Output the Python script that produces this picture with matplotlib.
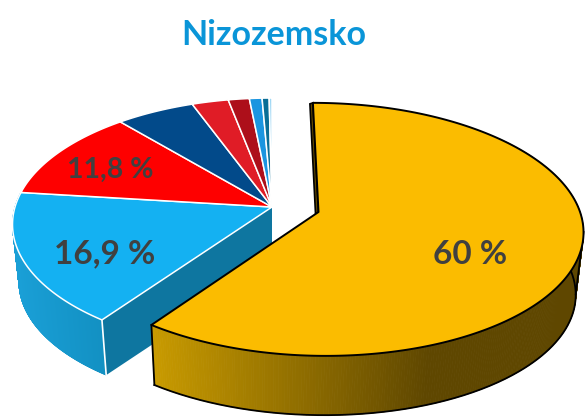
import numpy as np
from matplotlib import pyplot as plt
from matplotlib.collections import PolyCollection
from matplotlib.colors import to_rgb
from matplotlib.patches import Polygon

title = 'Nizozemsko'
values = [60, 16.9, 11.8, 5.6, 2.6, 1.5, 0.9, 0.5, 0.2]
colors = ['#fbbc00', '#14b1f2', '#fe0000', '#024a8a', '#e01c26', '#ad0f1a', '#1b95e0', '#0a6e96', '#9fd8f5']
labels = {0: '60 %', 1: '16,9 %', 2: '11,8 %'}
label_pos = {0: (470, 255), 1: (105, 254), 2: (110, 170)}
label_size = {0: 24, 1: 24, 2: 20.5}

# perspective of the pie plane
CX, CY = 272, 207
RX, RY = 257, 124
P = 0.138
# the bottom face
DROP = 58
YELLOW_DROP = 63
SHRINK = 0.975
# yellow slice is pulled out and a bit wider
YELLOW_OFF = (0.18, -0.04)
YELLOW_R = (1.012, 0.99)


def project(theta, r, off, drop=None):
    u = r[0] * np.sin(theta) + off[0]
    v = r[1] * np.cos(theta) + off[1]
    w = 1 + P * v
    x = u / w * RX
    y = v / w * RY
    if drop is not None:
        return CX + x * SHRINK, CY + drop - y * SHRINK
    return CX + x, CY - y


def mix(c1, c2, t):
    c1, c2 = np.array(to_rgb(c1)), np.array(to_rgb(c2))
    return tuple(c1 + (c2 - c1) * t)


def wall(ax, t, r, off, drop, c_left, c_right, x_left, x_right, z):
    xt, yt = project(t, r, off)
    xb, yb = project(t, r, off, drop)
    quads = []
    cols = []
    for i in range(len(t) - 1):
        quads.append([(xt[i], yt[i]), (xt[i + 1], yt[i + 1]), (xb[i + 1], yb[i + 1]), (xb[i], yb[i])])
        k = np.clip((xt[i] - x_left) / (x_right - x_left), 0, 1)
        cols.append(mix(c_left, c_right, k))
    ax.add_collection(PolyCollection(quads, facecolors=cols, edgecolors=cols, linewidths=0.6, zorder=z))
    return xt, yt, xb, yb


fig = plt.figure(figsize=(5.85, 4.17), dpi=100)
ax = fig.add_axes([0, 0, 1, 1])
ax.set_xlim(0, 585)
ax.set_ylim(417, 0)
ax.axis('off')

edges = np.deg2rad(np.cumsum([0] + values) / sum(values) * 360)

for i, val in enumerate(values):
    t = np.linspace(edges[i], edges[i + 1], 400)
    off = YELLOW_OFF if i == 0 else (0, 0)
    r = YELLOW_R if i == 0 else (1, 1)
    drop = YELLOW_DROP if i == 0 else DROP
    ax_, ay_ = project(np.array([0.0]), (0, 0), off)
    bx_, by_ = project(np.array([0.0]), (0, 0), off, drop)
    xt0, yt0 = project(t[:1], r, off)
    xb0, yb0 = project(t[:1], r, off, drop)
    z = 10 if i == 0 else 2

    if i == 0:
        # thin dark strip along the back cut, then the rim
        ax.add_patch(Polygon([(ax_[0], ay_[0]), (xt0[0], yt0[0]), (xt0[0] - 3, yt0[0] + 1), (ax_[0] - 3, ay_[0] + 2)],
                             closed=True, facecolor='#5f4700', edgecolor='black', linewidth=1.2, zorder=z))
        # the back of the rim is hidden, only draw it from the right side on
        rim = t[t > np.deg2rad(50)]
        xt, yt, xb, yb = wall(ax, rim, r, off, drop, '#c99b00', '#5f4700', 152, 430, z)
        ax.plot(xb, yb, color='black', lw=1.3, zorder=z + 0.1)
        ax.plot([xt[-1], xb[-1]], [yt[-1], yb[-1]], color='black', lw=1.3, zorder=z + 0.1)
        k = np.argmax(xt)
        ax.plot([xt[k], xb[k]], [yt[k], yb[k]], color='black', lw=1.3, zorder=z + 0.1)
    elif i == 1:
        # cut wall of the blue slice, visible through the gap
        ax.add_patch(Polygon([(ax_[0], ay_[0]), (xt0[0], yt0[0]), (xb0[0], yb0[0]), (bx_[0], by_[0])],
                             closed=True, facecolor='#0e76a0', edgecolor='none', zorder=z))
        xt, yt, xb, yb = wall(ax, t, r, off, drop, '#1a9fd6', '#1290c2', 15, 105, z)
        ax.plot([xt[0], xb[0]], [yt[0], yb[0]], color='white', lw=1.2, zorder=z + 0.1)

    xs, ys = project(t, r, off)
    poly = np.column_stack([np.r_[ax_, xs], np.r_[ay_, ys]])
    ec = 'black' if i == 0 else 'white'
    lw = 1.4 if i == 0 else 1.1
    ax.add_patch(Polygon(poly, closed=True, facecolor=colors[i], edgecolor=ec, linewidth=lw,
                         joinstyle='round', zorder=z + 1))

for i, s in labels.items():
    ax.text(label_pos[i][0], label_pos[i][1], s, fontsize=label_size[i], fontweight='bold', family='Lato',
            color='#404040', ha='center', va='center', zorder=20)

ax.text(274, 35, title, fontsize=24.5, fontweight='bold', family='Lato', color='#0a95d8',
        ha='center', va='center', zorder=20)

fig.savefig('out.png', dpi=100)
